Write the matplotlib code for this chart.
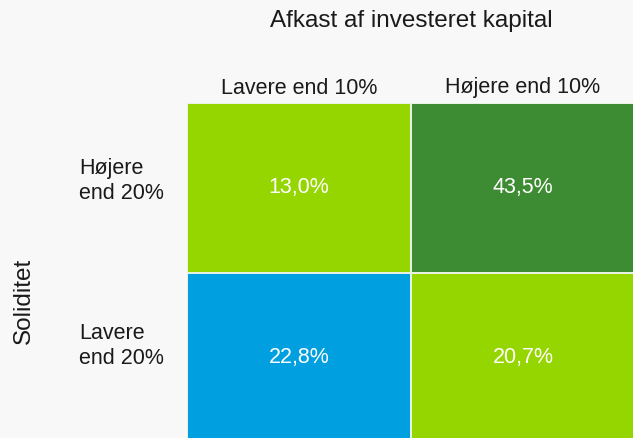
import matplotlib.pyplot as plt
import numpy as np
from matplotlib.colors import ListedColormap

col_labels = ["Lavere end 10%", "Højere end 10%"]
row_labels = ["Højere\nend 20%", "Lavere\nend 20%"]
values = [[13.0, 43.5], [22.8, 20.7]]
# colour group per cell: 0 = light green, 1 = dark green, 2 = blue
groups = [[0, 1], [2, 0]]

plt.rcParams["font.family"] = ["Liberation Sans", "DejaVu Sans"]

W, H = 633, 438
fig = plt.figure(figsize=(W / 100, H / 100), dpi=100, facecolor="#f8f8f8")

# grid: cells 224 x 170 px, starting at (187, 103); spills past the figure edge
x0, y0, cw, ch = 187, 103, 224, 170
ax = fig.add_axes([x0 / W, 1 - (y0 + 2 * ch) / H, 2 * cw / W, 2 * ch / H])
cmap = ListedColormap(["#95d600", "#3d8b32", "#009fdf"])
ax.pcolormesh(np.array(groups), cmap=cmap, vmin=-0.5, vmax=2.5,
              edgecolors="#e8f2e0", linewidth=1.2)
ax.set_xlim(0, 2)
ax.set_ylim(2, 0)
ax.axis("off")

for i in range(2):
    for j in range(2):
        txt = f"{values[i][j]:.1f}%".replace(".", ",")
        ax.text(j + 0.5, i + 0.5, txt, ha="center", va="center",
                color="white", fontsize=15.5)

# column labels
for j, lab in enumerate(col_labels):
    fig.text((x0 + cw * (j + 0.5)) / W, 1 - 88 / H, lab, ha="center",
             va="center", fontsize=15.5, color="#1a1a1a")

# row labels
for y, lab in zip([181, 346], row_labels):
    fig.text(79 / W, 1 - y / H, lab, ha="left", va="center",
             fontsize=15.5, color="#1a1a1a", linespacing=1.25)

fig.text(411 / W, 1 - 21 / H, "Afkast af investeret kapital", ha="center",
         va="center", fontsize=17.5, color="#1a1a1a")
fig.text(24 / W, 1 - 301 / H, "Soliditet", ha="center", va="center",
         rotation=90, fontsize=17.5, color="#1a1a1a")

fig.savefig("out.png", dpi=100, facecolor=fig.get_facecolor())
